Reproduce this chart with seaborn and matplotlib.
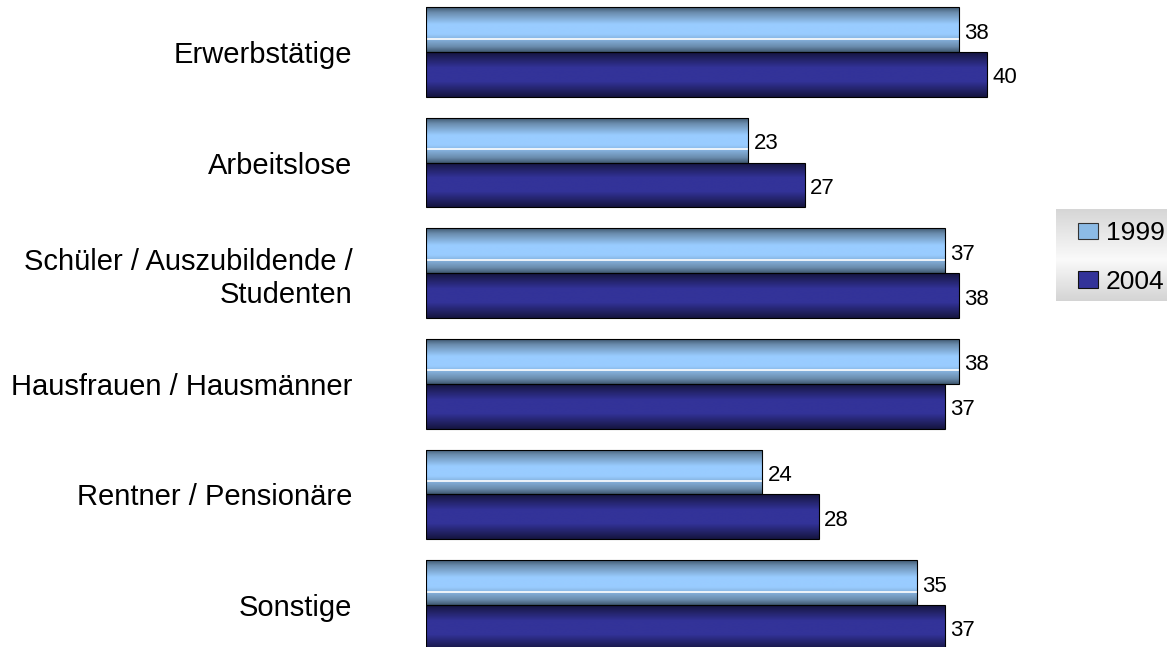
import numpy as np
import pandas as pd
import matplotlib
matplotlib.use("Agg")
import matplotlib.pyplot as plt
import seaborn as sns
from matplotlib.patches import Patch
from matplotlib.colors import LinearSegmentedColormap

categories = ["Erwerbstätige", "Arbeitslose", "Schüler / Auszubildende /\nStudenten",
              "Hausfrauen / Hausmänner", "Rentner / Pensionäre", "Sonstige"]
years = ["1999", "2004"]
values_1999 = [38, 23, 37, 38, 24, 35]
values_2004 = [40, 27, 38, 37, 28, 37]

df = pd.DataFrame({
    "Kategorie": categories * 2,
    "Jahr": [years[0]] * len(categories) + [years[1]] * len(categories),
    "Wert": values_1999 + values_2004,
})

sns.set_theme(style="white")
plt.rcParams["font.family"] = ["Liberation Sans", "DejaVu Sans"]

fig = plt.figure(figsize=(11.67, 6.47), dpi=100)
ax = fig.add_axes([426 / 1167, 0, 701 / 1167, 1])

sns.barplot(data=df, y="Kategorie", x="Wert", hue="Jahr", order=categories,
            hue_order=years, palette=["#99ccff", "#333399"], width=0.81,
            orient="h", ax=ax, legend=False, errorbar=None,
            edgecolor="black", linewidth=0.8)

cm_light = LinearSegmentedColormap.from_list(
    "light", [(0, "#3f5870"), (0.12, "#6a8cad"), (0.38, "#99ccff"),
              (0.6, "#99ccff"), (0.88, "#6a8cad"), (1, "#3f5870")])
cm_dark = LinearSegmentedColormap.from_list(
    "dark", [(0, "#15153f"), (0.35, "#333399"), (0.65, "#333399"), (1, "#15153f")])
grad = np.linspace(0, 1, 256).reshape(-1, 1)

for ci, (cont, cmap) in enumerate(zip(ax.containers, [cm_light, cm_dark])):
    for p in cont.patches:
        x0, y0 = p.get_x(), p.get_y()
        w, h = p.get_width(), p.get_height()
        im = ax.imshow(grad, cmap=cmap, aspect="auto", origin="upper",
                       extent=(x0, x0 + w, y0 + h, y0), zorder=1)
        im.set_clip_path(p)
        p.set_facecolor("none")
        p.set_zorder(3)
        if ci == 0:
            ax.plot([x0, x0 + w], [y0 + 0.7 * h] * 2, color="white", lw=1.2, zorder=2)
    labels = ax.bar_label(cont, padding=4, fontsize=16, color="black")
    for t in labels:
        t.xyann = (4, -2.5)

ax.set_xlim(0, 50)
ax.set_ylim(5.38, -0.47)
ax.set_xlabel("")
ax.set_ylabel("")
ax.set_xticks([])
ax.tick_params(axis="y", pad=53, length=0, labelsize=21, labelcolor="black")
for s in ax.spines.values():
    s.set_visible(False)

# legend with gradient background
lax = fig.add_axes([1056 / 1167, (647 - 301) / 647, 111 / 1167, 92 / 647])
lgrad = np.linspace(0, 1, 256).reshape(-1, 1)
cm_leg = LinearSegmentedColormap.from_list(
    "leg", [(0, "#d6d6d6"), (0.55, "#fafafa"), (1, "#d4d4d4")])
lax.imshow(lgrad, cmap=cm_leg, aspect="auto", origin="upper", extent=(0, 1, 0, 1))
lax.set_xlim(0, 1)
lax.set_ylim(0, 1)
lax.axis("off")
handles = [Patch(facecolor="#8cbbe6", edgecolor="#333333", linewidth=0.8),
           Patch(facecolor="#333399", edgecolor="#111111", linewidth=0.8)]
leg = lax.legend(handles, years, loc="center left", bbox_to_anchor=(0.198, 0.473),
                 frameon=False, fontsize=19, handlelength=0.75, handleheight=0.6,
                 handletextpad=0.3, labelspacing=0.93, borderpad=0, borderaxespad=0)
for t in leg.get_texts():
    t.set_color("black")

fig.savefig("out.png", dpi=100)
